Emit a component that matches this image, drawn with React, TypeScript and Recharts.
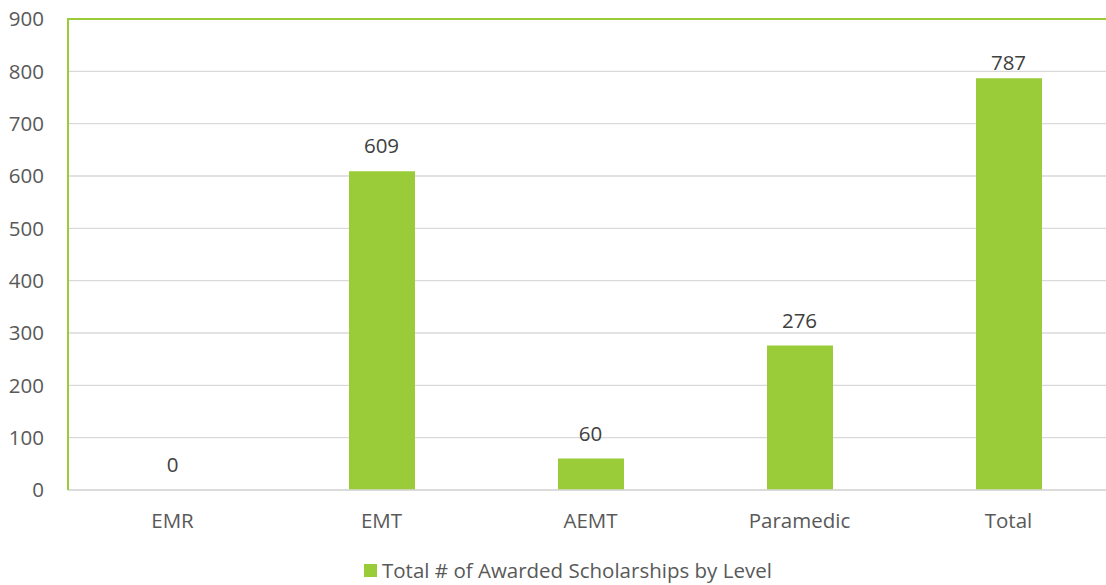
import React from "react";
import { ComposedChart, Bar, Line, XAxis, YAxis, CartesianGrid, Legend, LabelList } from "recharts";

const categories = ["EMR", "EMT", "AEMT", "Paramedic", "Total"];
const awarded = [0, 609, 60, 276, 787];
const yTicks = [0, 100, 200, 300, 400, 500, 600, 700, 800, 900];
const seriesName = "Total # of Awarded Scholarships by Level";

const data = categories.map((c, i) => ({ name: c, value: awarded[i] }));

const GREEN = "#9ACB38";
const FONT = "'Open Sans', 'Noto Sans', sans-serif";
const FS = 20.5;

const renderLabel = (props: any) => {
  const { x, y, value } = props;
  const cy = Math.max(y - 25, 63);
  return (
    <text x={x} y={cy} dy="0.35em" textAnchor="middle" fill="#404040" fontSize={FS} fontFamily={FONT}>
      {value}
    </text>
  );
};

const renderLegend = () => (
  <div style={{ display: "flex", alignItems: "center", marginLeft: 364, paddingTop: 13, fontFamily: FONT, fontSize: FS, lineHeight: "24px", color: "#595959" }}>
    <span style={{ display: "inline-block", width: 13, height: 13, background: GREEN, marginRight: 5 }} />
    <span>{seriesName}</span>
  </div>
);

export default function App() {
  return (
    <div style={{ position: "absolute", left: 0, top: 0, width: 1106, height: 585, overflow: "hidden", background: "#fff" }}>
      <ComposedChart width={1113} height={585} data={data} margin={{ top: 19, right: 0, left: 0, bottom: 0 }}>
        <CartesianGrid vertical={false} stroke="#d9d9d9" strokeWidth={1.3} />
        <XAxis
          dataKey="name"
          height={55}
          axisLine={{ stroke: "#d9d9d9", strokeWidth: 1.3 }}
          tickLine={false}
          tickSize={0}
          tickMargin={23}
          tick={{ fill: "#595959", fontSize: FS, fontFamily: FONT }}
        />
        <YAxis
          width={68}
          domain={[0, 900]}
          ticks={yTicks}
          axisLine={{ stroke: GREEN, strokeWidth: 2 }}
          tickLine={false}
          tickSize={0}
          tickMargin={24}
          tick={{ fill: "#595959", fontSize: FS, fontFamily: FONT }}
        />
        <Legend verticalAlign="bottom" height={40} content={renderLegend} />
        <Bar dataKey="value" name={seriesName} fill={GREEN} barSize={66} isAnimationActive={false} />
        <Line
          dataKey="value"
          stroke="none"
          dot={false}
          activeDot={false}
          legendType="none"
          isAnimationActive={false}
        >
          <LabelList dataKey="value" content={renderLabel} />
        </Line>
      </ComposedChart>
      <div style={{ position: "absolute", left: 67, top: 18, width: 1060, height: 2, background: GREEN }} />
    </div>
  );
}
